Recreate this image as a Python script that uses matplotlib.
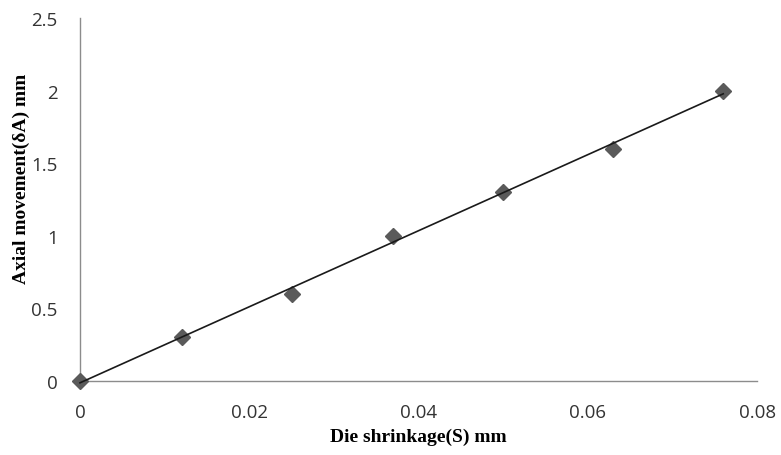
import numpy as np
import matplotlib
matplotlib.use("Agg")
import matplotlib.pyplot as plt

# values
shrinkage_mm = [0.0, 0.012, 0.025, 0.037, 0.050, 0.063, 0.076]
axial_mm = [0.0, 0.3, 0.6, 1.0, 1.3, 1.6, 2.0]
x_ticks = [0, 0.02, 0.04, 0.06, 0.08]
x_tick_labels = ["0", "0.02", "0.04", "0.06", "0.08"]
y_ticks = [0, 0.5, 1, 1.5, 2, 2.5]
y_tick_labels = ["0", "0.5", "1", "1.5", "2", "2.5"]

fig = plt.figure(figsize=(7.81, 4.56), dpi=100)
ax = fig.add_axes([0.1024, 0.1623, 0.8670, 0.7960])

ax.plot(shrinkage_mm, axial_mm, "D", color="#5a5a5a", markersize=8.5, zorder=3)

# linear trendline over the data range
slope, intercept = np.polyfit(shrinkage_mm, axial_mm, 1)
xs = np.array([min(shrinkage_mm), max(shrinkage_mm)])
ax.plot(xs, slope * xs + intercept, "-", color="#1a1a1a", linewidth=1.2, zorder=4)

ax.set_xlim(0, 0.08)
ax.set_ylim(0, 2.5)
ax.set_xticks(x_ticks)
ax.set_xticklabels(x_tick_labels)
ax.set_yticks(y_ticks)
ax.set_yticklabels(y_tick_labels)
ax.tick_params(length=0, labelsize=13.5, colors="#333333")
ax.tick_params(axis="x", pad=16)
ax.tick_params(axis="y", pad=16)
for lbl in ax.get_xticklabels() + ax.get_yticklabels():
    lbl.set_family("Open Sans")

for side in ("top", "right"):
    ax.spines[side].set_visible(False)
for side in ("left", "bottom"):
    ax.spines[side].set_color("#8c8c8c")
    ax.spines[side].set_linewidth(1.0)
for line in ax.get_lines():
    line.set_clip_on(False)

ax.set_xlabel("Die shrinkage(S) mm", family="Liberation Serif", fontweight="bold",
              fontsize=14)
ax.set_ylabel("Axial movement(δA) mm", family="Liberation Serif", fontweight="bold",
              fontsize=14)
ax.xaxis.set_label_coords(0.5, -0.128)
ax.yaxis.set_label_coords(-0.074, 0.56)

fig.savefig("out.png", dpi=100, facecolor="white")
